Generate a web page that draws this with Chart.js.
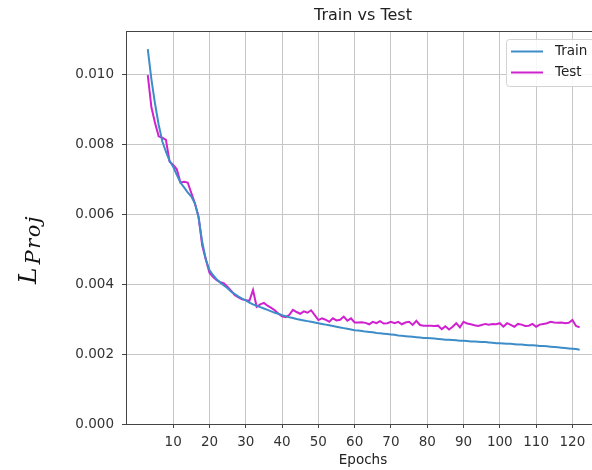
<!DOCTYPE html>
<html>
<head>
<meta charset="utf-8">
<script src="https://cdn.jsdelivr.net/npm/chart.js@4"></script>
<style>
  html, body { margin: 0; padding: 0; background: #fff; overflow: hidden; }
  #wrap { width: 592px; height: 470px; }
</style>
</head>
<body>
<div id="wrap"><canvas id="lossChart" width="592" height="470"></canvas></div>
<script>
// epochs shown on the x axis
const epochs = [
    3, 4, 5, 6, 7, 8, 9, 10, 11, 12, 13, 14, 15, 16, 17, 18, 19, 20, 21, 22,
    23, 24, 25, 26, 27, 28, 29, 30, 31, 32, 33, 34, 35, 36, 37, 38, 39, 40, 41, 42,
    43, 44, 45, 46, 47, 48, 49, 50, 51, 52, 53, 54, 55, 56, 57, 58, 59, 60, 61, 62,
    63, 64, 65, 66, 67, 68, 69, 70, 71, 72, 73, 74, 75, 76, 77, 78, 79, 80, 81, 82,
    83, 84, 85, 86, 87, 88, 89, 90, 91, 92, 93, 94, 95, 96, 97, 98, 99, 100, 101, 102,
    103, 104, 105, 106, 107, 108, 109, 110, 111, 112, 113, 114, 115, 116, 117, 118, 119, 120, 121, 122
];

const trainLoss = [
    0.01071, 0.00985, 0.00915, 0.00855, 0.00808, 0.00778, 0.00752, 0.00735, 0.00712, 0.00690,
    0.00676, 0.00662, 0.00650, 0.00630, 0.00590, 0.00520, 0.00470, 0.00440, 0.00425, 0.00413,
    0.00404, 0.00396, 0.00388, 0.00378, 0.00371, 0.00364, 0.00358, 0.00353, 0.00347, 0.00342,
    0.00338, 0.00334, 0.00330, 0.00326, 0.00322, 0.00318, 0.00315, 0.00311, 0.00308, 0.00305,
    0.00303, 0.00300, 0.00298, 0.00296, 0.00294, 0.00292, 0.00290, 0.00288, 0.00286, 0.00284,
    0.00282, 0.00280, 0.00278, 0.00276, 0.00274, 0.00272, 0.00270, 0.00268, 0.00267, 0.00266,
    0.00264, 0.00263, 0.00262, 0.00260, 0.00259, 0.00258, 0.00257, 0.00256, 0.00255, 0.00253,
    0.00252, 0.00251, 0.00250, 0.00249, 0.00248, 0.00247, 0.00246, 0.00246, 0.00245, 0.00244,
    0.00243, 0.00242, 0.00241, 0.00241, 0.00240, 0.00239, 0.00238, 0.00238, 0.00237, 0.00236,
    0.00236, 0.00235, 0.00234, 0.00234, 0.00233, 0.00232, 0.00231, 0.00231, 0.00230, 0.00229,
    0.00229, 0.00228, 0.00227, 0.00227, 0.00226, 0.00225, 0.00225, 0.00224, 0.00223, 0.00223,
    0.00222, 0.00221, 0.00220, 0.00219, 0.00218, 0.00217, 0.00216, 0.00215, 0.00214, 0.00212
];

const testLoss = [
    0.00997, 0.00905, 0.00860, 0.00822, 0.00818, 0.00812, 0.00750, 0.00740, 0.00728, 0.00690,
    0.00692, 0.00690, 0.00660, 0.00630, 0.00592, 0.00510, 0.00470, 0.00432, 0.00420, 0.00411,
    0.00405, 0.00402, 0.00392, 0.00380, 0.00368, 0.00362, 0.00356, 0.00354, 0.00352, 0.00383,
    0.00335, 0.00342, 0.00346, 0.00338, 0.00332, 0.00325, 0.00315, 0.00308, 0.00305, 0.00312,
    0.00326, 0.00320, 0.00315, 0.00322, 0.00318, 0.00325, 0.00311, 0.00297, 0.00302, 0.00298,
    0.00292, 0.00302, 0.00296, 0.00298, 0.00307, 0.00295, 0.00302, 0.00290, 0.00290, 0.00291,
    0.00289, 0.00285, 0.00292, 0.00288, 0.00294, 0.00287, 0.00288, 0.00292, 0.00288, 0.00292,
    0.00285, 0.00290, 0.00292, 0.00283, 0.00295, 0.00283, 0.00281, 0.00281, 0.00281, 0.00280,
    0.00281, 0.00271, 0.00279, 0.00270, 0.00278, 0.00288, 0.00276, 0.00292, 0.00287, 0.00285,
    0.00282, 0.00280, 0.00283, 0.00286, 0.00284, 0.00286, 0.00285, 0.00288, 0.00278, 0.00288,
    0.00283, 0.00278, 0.00286, 0.00284, 0.00280, 0.00281, 0.00286, 0.00278, 0.00284, 0.00286,
    0.00288, 0.00292, 0.00290, 0.00289, 0.00290, 0.00288, 0.00289, 0.00297, 0.00280, 0.00276
];

const xTicks = [10, 20, 30, 40, 50, 60, 70, 80, 90, 100, 110, 120];
const yTicks = [0, 0.002, 0.004, 0.006, 0.008, 0.010];

const seriesNames = ['Train', 'Test'];
const seriesColors = ['#3c8dc8', '#d021d0'];

const FONT = "'DejaVu Sans', sans-serif";
const AXIS_COLOR = '#444';
const GRID_COLOR = '#c6c6c6';

// draws title, axis labels, top spine and legend (matplotlib style)
const decorations = {
    id: 'decorations',
    afterDraw(chart) {
        const { ctx, chartArea } = chart;
        const plotCenter = 363;
        ctx.save();

        // top spine
        ctx.strokeStyle = AXIS_COLOR;
        ctx.lineWidth = 1;
        ctx.beginPath();
        ctx.moveTo(chartArea.left, chartArea.top + 0.5);
        ctx.lineTo(chartArea.right, chartArea.top + 0.5);
        ctx.stroke();

        // title
        ctx.fillStyle = '#222';
        ctx.font = `16px ${FONT}`;
        ctx.textAlign = 'center';
        ctx.textBaseline = 'middle';
        ctx.fillText('Train vs Test', plotCenter, 16);

        // x label
        ctx.font = `13.5px ${FONT}`;
        ctx.fillText('Epochs', plotCenter, 460);

        // y label: L with subscript Proj, rotated
        ctx.save();
        ctx.translate(36, 284);
        ctx.rotate(-Math.PI / 2);
        ctx.textAlign = 'left';
        ctx.textBaseline = 'alphabetic';
        ctx.fillStyle = '#111';
        ctx.font = `italic 25px 'DejaVu Serif', serif`;
        ctx.fillText('L', 0, 0);
        const lw = ctx.measureText('L').width;
        ctx.font = `italic 21px 'DejaVu Serif', serif`;
        ctx.letterSpacing = '1.5px';
        ctx.fillText('Proj', lw + 3, 4);
        ctx.restore();

        // legend
        const bx = 506.5, by = 39.5, bw = 100, bh = 47;
        ctx.fillStyle = 'rgba(255,255,255,0.85)';
        ctx.strokeStyle = '#d3d3d3';
        ctx.lineWidth = 1;
        ctx.beginPath();
        ctx.roundRect(bx, by, bw, bh, 3);
        ctx.fill();
        ctx.stroke();

        ctx.textAlign = 'left';
        ctx.textBaseline = 'middle';
        ctx.font = `13.5px ${FONT}`;
        seriesNames.forEach((name, i) => {
            const ly = 51.5 + i * 21;
            ctx.strokeStyle = seriesColors[i];
            ctx.lineWidth = 2;
            ctx.beginPath();
            ctx.moveTo(511, ly);
            ctx.lineTo(543, ly);
            ctx.stroke();
            ctx.fillStyle = '#222';
            ctx.fillText(name, 555, ly);
        });

        ctx.restore();
    }
};

const ctx = document.getElementById('lossChart').getContext('2d');
new Chart(ctx, {
    type: 'line',
    data: {
        datasets: [
            {
                label: seriesNames[0],
                data: epochs.map((e, i) => ({ x: e, y: trainLoss[i] })),
                borderColor: seriesColors[0],
                borderWidth: 2,
                pointRadius: 0,
                tension: 0
            },
            {
                label: seriesNames[1],
                data: epochs.map((e, i) => ({ x: e, y: testLoss[i] })),
                borderColor: seriesColors[1],
                borderWidth: 2,
                pointRadius: 0,
                tension: 0
            }
        ]
    },
    options: {
        responsive: false,
        animation: false,
        devicePixelRatio: 1,
        layout: { padding: { left: 0, right: 0, top: 31, bottom: 0 } },
        plugins: {
            legend: { display: false },
            title: { display: false },
            tooltip: { enabled: false }
        },
        scales: {
            x: {
                type: 'linear',
                min: -3,
                max: 125.4,
                afterBuildTicks: (scale) => { scale.ticks = xTicks.map(v => ({ value: v })); },
                afterFit: (scale) => { scale.height = 46; },
                ticks: {
                    color: '#333',
                    font: { family: FONT, size: 13.5 },
                    padding: 6,
                    maxRotation: 0,
                    autoSkip: false
                },
                grid: {
                    color: GRID_COLOR,
                    lineWidth: 1,
                    tickColor: AXIS_COLOR,
                    tickLength: 4
                },
                border: { color: AXIS_COLOR, width: 1 }
            },
            y: {
                min: 0,
                max: 0.01123,
                afterBuildTicks: (scale) => { scale.ticks = yTicks.map(v => ({ value: v })); },
                afterFit: (scale) => { scale.width = 126; },
                ticks: {
                    color: '#333',
                    font: { family: FONT, size: 13.5 },
                    padding: 8,
                    callback: (v) => v.toFixed(3)
                },
                grid: {
                    color: GRID_COLOR,
                    lineWidth: 1,
                    tickColor: AXIS_COLOR,
                    tickLength: 4
                },
                border: { color: AXIS_COLOR, width: 1 }
            }
        }
    },
    plugins: [decorations]
});
</script>
</body>
</html>
